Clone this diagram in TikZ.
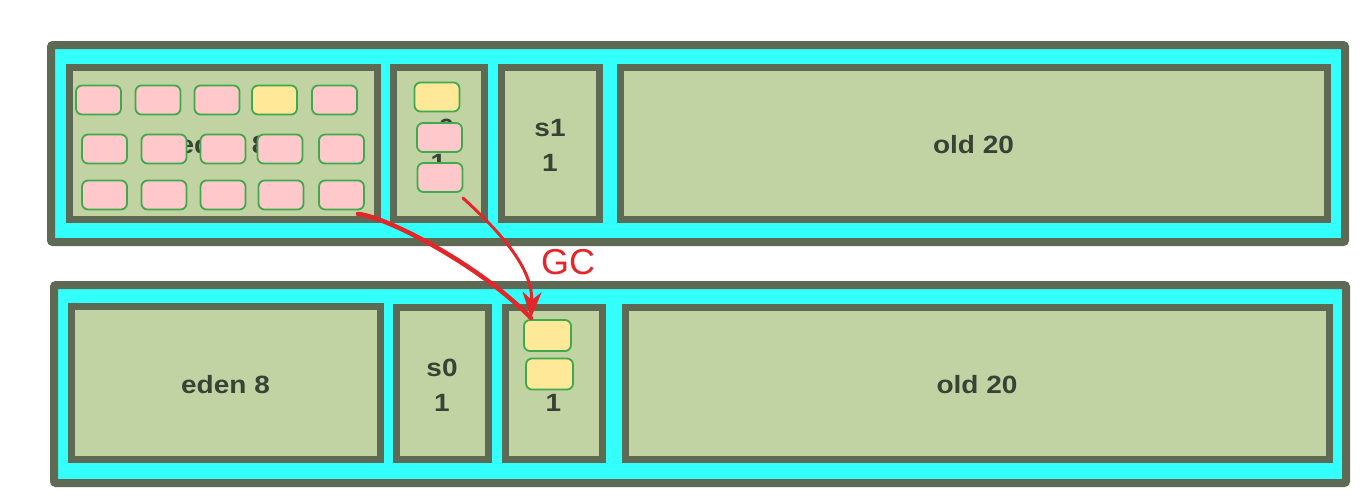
\documentclass[tikz,border=0pt]{standalone}
\usepackage{fontspec}
\setmainfont{Liberation Sans}
\usetikzlibrary{arrows.meta}
\definecolor{cyanfill}{HTML}{33FFFC}
\definecolor{darkline}{HTML}{5F6A55}
\definecolor{gfill}{HTML}{C1D3A3}
\definecolor{pinkfill}{HTML}{FFC9CC}
\definecolor{yelfill}{HTML}{FFE897}
\definecolor{objline}{HTML}{3FA94D}
\definecolor{gcred}{HTML}{E3262A}
\definecolor{txt}{HTML}{3A4236}
\newcommand{\sx}[1]{\scalebox{1.12}[1]{#1}}
\tikzset{
  heapbox/.style={draw=darkline, line width=8pt, fill=cyanfill, rounded corners=2pt, inner sep=0pt, minimum height=197pt},
  regbox/.style={draw=darkline, line width=7pt, fill=gfill, inner sep=0pt, minimum height=152pt},
  lbl/.style={text=txt, font=\fontsize{25}{35}\selectfont\bfseries, align=center, inner sep=0pt},
  obj/.style={draw=objline, line width=1.8pt, rounded corners=6pt, minimum width=45pt, minimum height=29pt, inner sep=0pt},
  pinkobj/.style={obj, fill=pinkfill},
  yelobj/.style={obj, fill=yelfill},
  gcarrow/.style={draw=gcred, line cap=round}
}
\begin{document}
\begin{tikzpicture}[x=1pt,y=-1pt]
\useasboundingbox (0,0) rectangle (1365,501);
% ---------- top heap ----------
\node[heapbox, minimum width=1294pt] (topheap) at (698,143.5) {};
\node[regbox, minimum width=308pt] (teden) at (223,143) {};
\node[regbox, minimum width=91pt] (ts0) at (438.5,143) {};
\node[regbox, minimum width=98pt] (ts1) at (550,143) {};
\node[regbox, minimum width=707pt] (told) at (973.5,143) {};
\node[lbl] (tedenl) at (223,145) {\sx{eden 8}};
\node[lbl] (ts0l) at (438.5,145) {\sx{s0}\\\sx{1}};
\node[lbl] (ts1l) at (550,145) {\sx{s1}\\\sx{1}};
\node[lbl] (toldl) at (973.5,145) {\sx{old 20}};
% objects in eden
\node[pinkobj] (e11) at (98.5,100) {};
\node[pinkobj] (e12) at (158,100) {};
\node[pinkobj] (e13) at (217,100) {};
\node[yelobj]  (e14) at (274.5,100) {};
\node[pinkobj] (e15) at (334.5,100) {};
\node[pinkobj] (e21) at (104.5,149) {};
\node[pinkobj] (e22) at (164,149) {};
\node[pinkobj] (e23) at (223,149) {};
\node[pinkobj] (e24) at (280,149) {};
\node[pinkobj] (e25) at (341.5,149) {};
\node[pinkobj] (e31) at (104.5,195) {};
\node[pinkobj] (e32) at (164,195) {};
\node[pinkobj] (e33) at (223,195) {};
\node[pinkobj] (e34) at (281,195) {};
\node[pinkobj] (e35) at (341.5,195) {};
% objects in s0
\node[yelobj]  (s01) at (437,97) {};
\node[pinkobj] (s02) at (439.5,137.5) {};
\node[pinkobj] (s03) at (440,177.5) {};
% ---------- bottom heap ----------
\node[heapbox, minimum width=1292pt, minimum height=198pt] (botheap) at (700,384) {};
\node[regbox, minimum width=309pt, minimum height=153pt] (beden) at (225.5,382.5) {};
\node[regbox, minimum width=92pt] (bs0) at (442,383) {};
\node[regbox, minimum width=97pt] (bs1) at (553.5,383) {};
\node[regbox, minimum width=704pt] (bold) at (977,383) {};
\node[lbl] (bedenl) at (225.5,385) {\sx{eden 8}};
\node[lbl] (bs0l) at (442,385) {\sx{s0}\\\sx{1}};
\node[lbl] (bs1l) at (553.5,385) {\sx{s1}\\\sx{1}};
\node[lbl] (boldl) at (977,385) {\sx{old 20}};
\node[yelobj, minimum width=47pt, minimum height=31pt] (b1) at (547.5,335.5) {};
\node[yelobj, minimum width=47pt, minimum height=31pt] (b2) at (549.5,374) {};
% ---------- GC arrows ----------
\coordinate (a1s) at (358,214);
\coordinate (a2s) at (463,198);
\coordinate (tip) at (531,318);
\draw[gcarrow, line width=4.5pt] (a1s) .. controls (385,216) and (480,265) .. (tip);
\draw[gcarrow, line width=3pt, -{Stealth[length=26pt,width=19pt,inset=8pt]}] (a2s) .. controls (500,232) and (533,268) .. (tip);
\node[text=gcred, font=\fontsize{36}{40}\selectfont, inner sep=0pt] (gc) at (568,262) {GC};
\end{tikzpicture}
\end{document}
